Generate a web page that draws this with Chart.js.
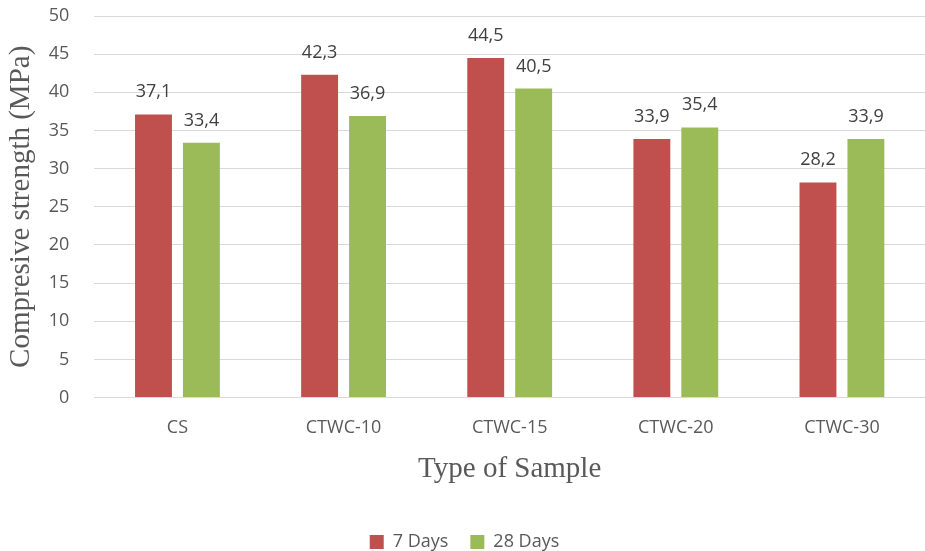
<!DOCTYPE html>
<html>
<head>
<meta charset="utf-8">
<script src="https://cdn.jsdelivr.net/npm/chart.js@4.4.1/dist/chart.umd.min.js"></script>
<style>
html,body{margin:0;padding:0;background:#fff;}
#wrap{width:925px;height:551px;}
</style>
</head>
<body>
<div id="wrap"><canvas id="c" width="925" height="551"></canvas></div>
<script>
const categories = ["CS", "CTWC-10", "CTWC-15", "CTWC-20", "CTWC-30"];
const days7 = [37.1, 42.3, 44.5, 33.9, 28.2];
const days28 = [33.4, 36.9, 40.5, 35.4, 33.9];
const seriesNames = ["7 Days", "28 Days"];
const yTitle = "Compresive strength (MPa)";
const xTitle = "Type of Sample";

const sansFont = "'Open Sans', Lato, sans-serif";
const serifFont = "'Liberation Serif', 'DejaVu Serif', serif";

const labelPlugin = {
  id: 'valueLabels',
  afterDatasetsDraw(chart) {
    const ctx = chart.ctx;
    ctx.save();
    ctx.font = "18px " + sansFont;
    ctx.fillStyle = "#404040";
    ctx.textAlign = "center";
    ctx.textBaseline = "alphabetic";
    chart.data.datasets.forEach((ds, i) => {
      const meta = chart.getDatasetMeta(i);
      meta.data.forEach((el, j) => {
        const v = ds.data[j];
        ctx.fillText(v.toFixed(1).replace('.', ','), el.x, el.y - 17);
      });
    });
    ctx.restore();
  }
};

new Chart(document.getElementById('c'), {
  type: 'bar',
  data: {
    labels: categories,
    datasets: [
      { label: seriesNames[0], data: days7, backgroundColor: "#C0504D", categoryPercentage: 0.577, barPercentage: 0.77 },
      { label: seriesNames[1], data: days28, backgroundColor: "#9BBB59", categoryPercentage: 0.577, barPercentage: 0.77 }
    ]
  },
  options: {
    responsive: false,
    animation: false,
    layout: { padding: { top: 16, right: 0, left: 4, bottom: -10 } },
    plugins: {
      legend: {
        position: 'bottom',
        labels: {
          boxWidth: 14, boxHeight: 14, padding: 22,
          color: "#595959",
          font: { family: sansFont, size: 18 }
        }
      },
      tooltip: { enabled: false }
    },
    scales: {
      x: {
        grid: { display: false, drawTicks: false },
        border: { display: true, color: "#d9d9d9", width: 1 },
        ticks: { color: "#595959", font: { family: sansFont, size: 18 }, padding: 19 },
        title: { display: true, text: xTitle, color: "#595959", font: { family: serifFont, size: 29 }, padding: { top: -5, bottom: 24 } }
      },
      y: {
        min: 0, max: 50,
        grid: { color: "#d9d9d9", lineWidth: 1, drawTicks: true, tickLength: 23, tickColor: "rgba(0,0,0,0)" },
        border: { display: false },
        ticks: { stepSize: 5, color: "#595959", font: { family: sansFont, size: 18 }, padding: 2 },
        title: { display: true, text: yTitle, color: "#595959", font: { family: serifFont, size: 29 }, padding: { top: 0, bottom: 8 } }
      }
    }
  },
  plugins: [labelPlugin]
});
</script>
</body>
</html>
